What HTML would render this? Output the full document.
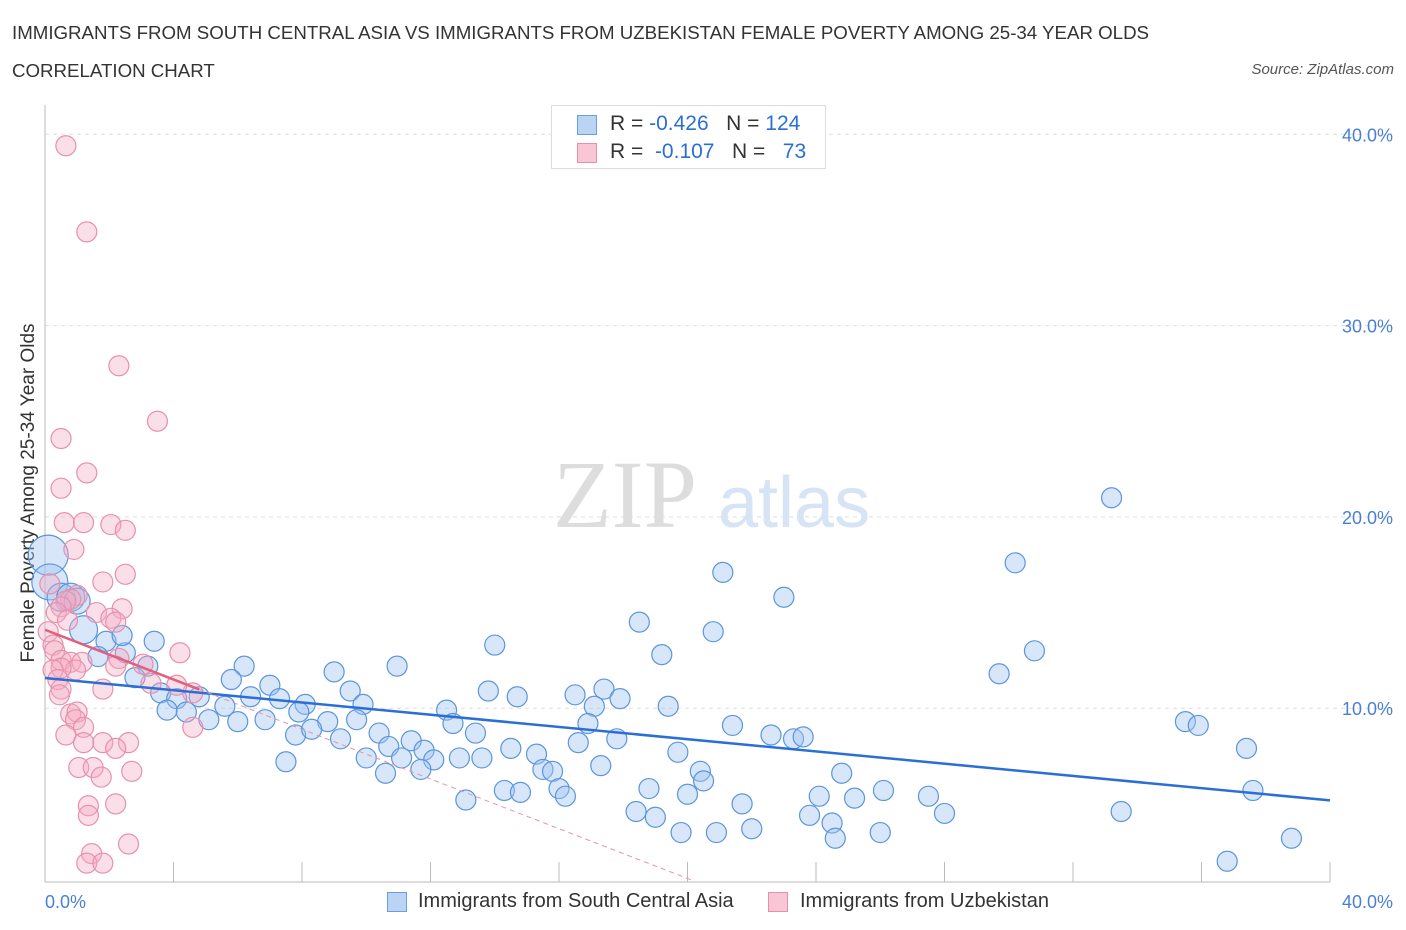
<!DOCTYPE html>
<html><head><meta charset="utf-8"><style>
body{margin:0;background:#fff;font-family:"Liberation Sans",sans-serif;}
#wrap{position:relative;width:1406px;height:930px;overflow:hidden;}
.t{position:absolute;white-space:nowrap;}
</style></head><body>
<div id="wrap">
<div class="t" style="left:12px;top:22px;font-size:18.7px;color:#333;">IMMIGRANTS FROM SOUTH CENTRAL ASIA VS IMMIGRANTS FROM UZBEKISTAN FEMALE POVERTY AMONG 25-34 YEAR OLDS</div>
<div class="t" style="left:12px;top:60px;font-size:18.7px;color:#333;">CORRELATION CHART</div>
<div class="t" style="right:12px;top:61px;font-size:15px;color:#555;font-style:italic;">Source: ZipAtlas.com</div>
<svg id="svg" width="1406" height="930" style="position:absolute;left:0;top:0"></svg>
</div>
<script>
const blueX=[33.2,30.2,21.1,23.0,18.5,20.8,14.0,30.8,19.2,10.96,6.2,29.7,9.0,3.4,2.5,1.9,1.65,3.2,5.8,7.0,9.5,13.8,14.7,16.5,17.4,17.9,17.1,19.4,9.9,8.1,7.3,6.4,4.8,3.6,4.1,2.8,5.6,7.9,12.5,3.8,4.4,5.1,6.0,6.85,8.8,9.7,12.7,16.9,21.4,35.5,35.9,7.8,8.3,10.4,9.2,11.4,13.4,16.6,17.8,22.6,23.3,23.6,10.7,11.8,12.9,13.6,14.5,15.3,10.0,11.1,12.1,19.7,37.4,7.5,10.6,11.7,15.5,15.8,17.3,20.4,24.8,20.5,18.8,14.3,14.8,16.0,16.2,20.0,24.1,25.2,26.1,27.5,13.1,21.7,37.6,18.4,19.0,23.8,24.5,28.0,33.5,22.0,19.8,20.9,24.6,26.0,38.8,36.8,0.1,0.15,0.5,0.8,1.0,1.2,2.4];
const blueY=[21.0,17.6,17.1,15.8,14.5,14.0,13.3,13.0,12.8,12.2,12.2,11.8,11.9,13.5,12.9,13.5,12.7,12.2,11.5,11.2,10.9,10.9,10.6,10.7,11.0,10.5,10.1,10.1,10.2,10.2,10.5,10.6,10.6,10.8,10.5,11.6,10.1,9.8,9.9,9.9,9.8,9.4,9.3,9.4,9.3,9.4,9.2,9.2,9.1,9.3,9.1,8.6,8.9,8.7,8.4,8.3,8.7,8.2,8.4,8.6,8.4,8.5,8.0,7.8,7.4,7.4,7.9,7.6,7.4,7.4,7.3,7.7,7.9,7.2,6.6,6.8,6.8,6.7,7.0,6.7,6.6,6.2,5.8,5.7,5.6,5.8,5.4,5.5,5.4,5.3,5.7,5.4,5.2,5.0,5.7,4.6,4.3,4.4,4.0,4.5,4.6,3.7,3.5,3.5,3.2,3.5,3.2,2.0,18.0,16.6,15.8,15.8,15.6,14.1,13.8];
const blueR=[10,10,10,10,10,10,10,10,10,10,10,10,10,10,10,10,10,10,10,10,10,10,10,10,10,10,10,10,10,10,10,10,10,10,10,10,10,10,10,10,10,10,10,10,10,10,10,10,10,10,10,10,10,10,10,10,10,10,10,10,10,10,10,10,10,10,10,10,10,10,10,10,10,10,10,10,10,10,10,10,10,10,10,10,10,10,10,10,10,10,10,10,10,10,10,10,10,10,10,10,10,10,10,10,10,10,10,10,20,18,14,14,13,14,10];
const pinkX=[0.65,1.3,2.3,3.5,0.5,1.3,0.5,0.6,1.2,2.05,2.5,0.9,2.5,1.8,0.15,1.0,0.8,0.65,0.5,0.35,2.4,1.6,2.05,0.7,2.2,0.1,4.2,0.25,0.3,0.5,0.8,1.15,0.95,0.5,0.25,2.3,3.05,2.2,0.4,0.5,0.45,1.8,4.6,3.3,4.1,4.6,0.8,1.0,0.95,1.2,0.65,1.8,1.2,2.6,2.2,1.05,1.5,1.75,2.7,1.35,2.2,1.35,2.6,1.45,1.3,1.8];
const pinkY=[39.4,34.9,27.9,25.0,24.1,22.3,21.5,19.7,19.7,19.6,19.3,18.3,17.0,16.6,16.5,15.9,15.7,15.6,15.3,15.0,15.2,15.0,14.7,14.6,14.5,14.0,12.9,13.3,13.0,12.5,12.4,12.4,12.0,12.1,12.0,12.6,12.3,12.2,11.5,11.0,10.7,11.0,10.8,11.3,11.2,9.0,9.7,9.8,9.4,9.0,8.6,8.2,8.2,8.2,7.9,6.9,6.9,6.4,6.7,4.9,5.0,4.4,2.9,2.4,1.9,1.9];
const blueTrend=[11.58,-0.16];
const pinkTrend=[14.1,-0.65];
const xTicks=[0,40];
const yTicks=[10,20,30,40];

const svg=document.getElementById('svg');const NS='http://www.w3.org/2000/svg';
const X=v=>45+v*32.125, Y=v=>899.5-v*19.13;
function mk(t,a,p){const e=document.createElementNS(NS,t);for(const k in a)e.setAttribute(k,a[k]);(p||svg).appendChild(e);return e;}
yTicks.forEach(v=>{const g=mk('line',{x1:45,x2:1392,y1:Y(v),y2:Y(v),stroke:'#ddd','stroke-dasharray':'4,4'});


const t=mk('text',{x:1393,y:Y(v)+7,'text-anchor':'end','font-size':18,fill:'#4a7fd6','font-family':'Liberation Sans'});t.textContent=v.toFixed(1)+'%';

});
mk('line',{x1:45,x2:45,y1:105,y2:882,stroke:'#bbb'});
mk('line',{x1:45,x2:1330,y1:882,y2:882,stroke:'#bbb'});
for(let i=1;i<=10;i++){const l=mk('line',{x1:X(i*4),x2:X(i*4),y1:862,y2:882,stroke:'#bbb'});

}
xTicks.forEach((v,i)=>{const t=mk('text',{x:i?1393:45,y:908,'text-anchor':i?'end':'start','font-size':18,fill:'#4a7fd6','font-family':'Liberation Sans'});t.textContent=v.toFixed(1)+'%';

});
const w=mk('text',{x:553,y:527,'font-size':96,fill:'#ddd','font-family':'Liberation Serif'});w.textContent='ZIP';


const w2=mk('text',{x:718,y:527,'font-size':72,fill:'#d6e4f5','font-family':'Liberation Sans'});w2.textContent='atlas';


const yt=mk('text',{transform:'translate(34,493) rotate(-90)','text-anchor':'middle','font-size':19,fill:'#333','font-family':'Liberation Sans'});yt.textContent='Female Poverty Among 25-34 Year Olds';


blueX.forEach((v,i)=>{const c=mk('circle',{cx:X(v),cy:Y(blueY[i]),r:blueR[i],fill:'rgba(160,196,240,0.42)',stroke:'#5b95dc','stroke-width':1.2});

});
pinkX.forEach((v,i)=>{const c=mk('circle',{cx:X(v),cy:Y(pinkY[i]),r:10,fill:'rgba(244,170,195,0.38)',stroke:'#e890ab','stroke-width':1.2});

});
let l=mk('line',{x1:X(0),y1:Y(blueTrend[0]),x2:X(40),y2:Y(blueTrend[0]+blueTrend[1]*40),stroke:'#2b6fd6','stroke-width':2.5});


l=mk('line',{x1:X(4.8),y1:Y(pinkTrend[0]+pinkTrend[1]*4.8),x2:X(20.1),y2:Y(pinkTrend[0]+pinkTrend[1]*20.1),stroke:'#e890ab','stroke-width':1,'stroke-dasharray':'5,4'});


l=mk('line',{x1:X(0),y1:Y(pinkTrend[0]),x2:X(4.8),y2:Y(pinkTrend[0]+pinkTrend[1]*4.8),stroke:'#e0607f','stroke-width':2.5});


</script>
<div style="position:absolute;left:551px;top:105px;width:273px;height:62px;border:1px solid #ddd;background:#fff;font-size:21px;color:#333;">
 <div style="position:absolute;left:25px;top:9px;width:18px;height:18px;background:#bcd4f4;border:1px solid #6a9ee0"></div>
 <div class="t" style="left:58px;top:6px">R = <span style="color:#2b6fd6">-0.426</span>&nbsp;&nbsp;&nbsp;N = <span style="color:#2b6fd6">124</span></div>
 <div style="position:absolute;left:25px;top:37px;width:18px;height:18px;background:#f8c6d4;border:1px solid #e890ab"></div>
 <div class="t" style="left:58px;top:34px">R = &nbsp;<span style="color:#2b6fd6">-0.107</span>&nbsp;&nbsp;&nbsp;N = &nbsp;&nbsp;<span style="color:#2b6fd6">73</span></div>
</div>
<div style="position:absolute;left:0;top:880px;width:1406px;font-size:20px;color:#333;">
 <div style="position:absolute;left:387px;top:12px;width:18px;height:18px;background:#bcd4f4;border:1px solid #6a9ee0"></div>
 <div class="t" style="left:418px;top:10px">Immigrants from South Central Asia</div>
 <div style="position:absolute;left:768px;top:12px;width:18px;height:18px;background:#f8c6d4;border:1px solid #e890ab"></div>
 <div class="t" style="left:800px;top:10px">Immigrants from Uzbekistan</div>
</div>
</body></html>
